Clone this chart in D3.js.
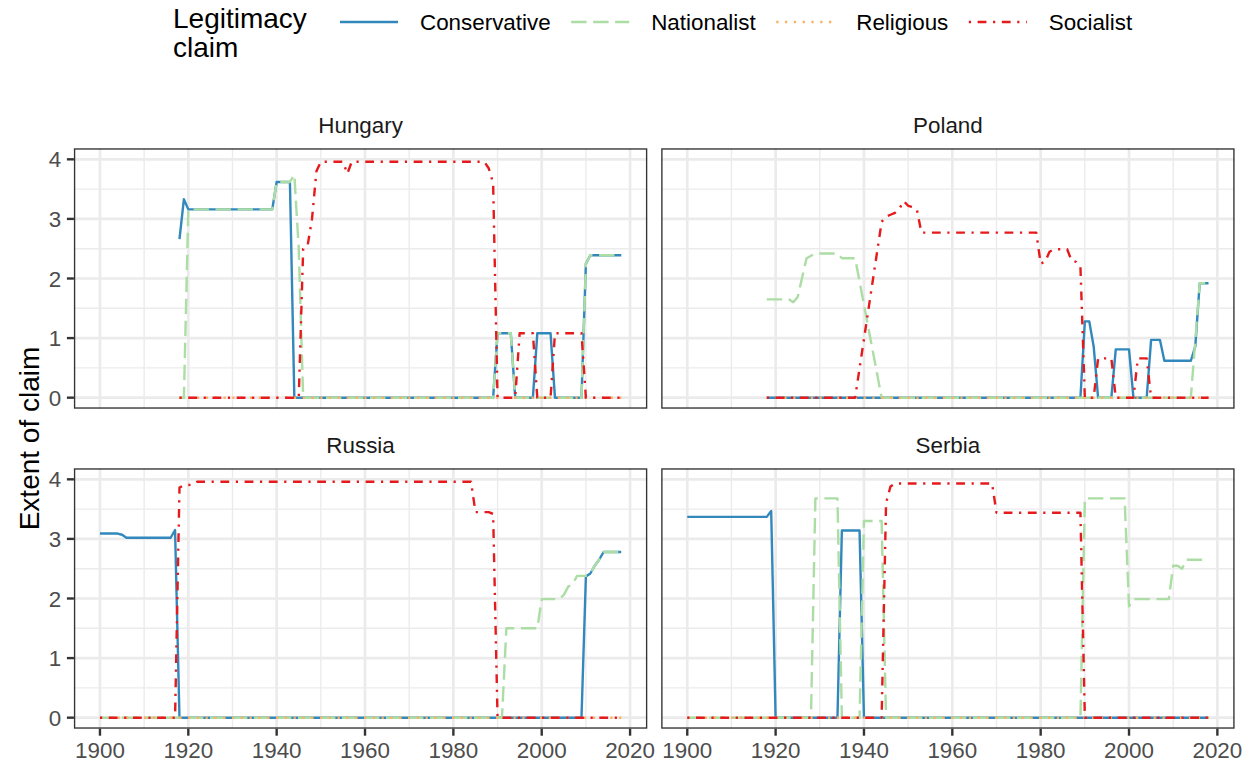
<!DOCTYPE html>
<html><head><meta charset="utf-8">
<script src="https://cdn.jsdelivr.net/npm/d3@7"></script>
<style>
body{margin:0;background:#fff;}
svg{display:block;font-family:"Liberation Sans",Arial,Helvetica,sans-serif;}
</style>
</head><body>
<svg id="chart" width="1252" height="767"></svg>
<script>
// ---------------- DATA ----------------
const countries = ["Hungary", "Poland", "Russia", "Serbia"];
const claims = ["Conservative", "Nationalist", "Religious", "Socialist"];
const xTicks = [1900, 1920, 1940, 1960, 1980, 2000, 2020];
const yTicks = [0, 1, 2, 3, 4];
const legendTitle = ["Legitimacy", "claim"];
const yTitle = "Extent of claim";

// [year, value] vertices
const hungaryConservative = [[1918,2.66],[1919,3.33],[1920,3.16],[1939,3.16],[1940,3.62],[1943,3.62],[1944,0],[1989,0],[1990,1.08],[1993,1.08],[1994,0],[1998,0],[1999,1.08],[2002,1.08],[2003,0],[2009,0],[2010,2.25],[2011,2.39],[2018,2.39]];
const hungaryNationalist = [[1918,0],[1919,0],[1920,3.16],[1939,3.16],[1940,3.62],[1943,3.62],[1944,3.74],[1945,2.5],[1946,0],[1989,0],[1990,1.08],[1993,1.08],[1994,0],[2009,0],[2010,2.25],[2011,2.39],[2018,2.39]];
const hungaryReligious = [[1918,0],[2018,0]];
const hungarySocialist = [[1918,0],[1945,0],[1946,2.5],[1947,2.55],[1948,3.0],[1949,3.8],[1950,3.96],[1955,3.96],[1956,3.76],[1957,3.96],[1987,3.96],[1988,3.85],[1989,3.6],[1990,0],[1994,0],[1995,1.08],[1998,1.08],[1999,0],[2002,0],[2003,1.08],[2009,1.08],[2010,0],[2018,0]];

const polandConservative = [[1918,0],[1989,0],[1990,1.28],[1991,1.28],[1992,0.86],[1993,0],[1996,0],[1997,0.81],[2000,0.81],[2001,0],[2004,0],[2005,0.97],[2007,0.97],[2008,0.62],[2014,0.62],[2015,0.86],[2016,1.92],[2018,1.92]];
const polandNationalist = [[1918,1.65],[1923,1.65],[1924,1.6],[1925,1.69],[1927,2.34],[1929,2.42],[1934,2.42],[1935,2.34],[1938,2.34],[1944,0],[2014,0],[2015,0.96],[2016,1.92],[2018,1.92]];
const polandReligious = [[1918,0],[2018,0]];
const polandSocialist = [[1918,0],[1938,0],[1944,2.95],[1945,3.04],[1946,3.07],[1947,3.1],[1948,3.17],[1949,3.3],[1950,3.22],[1951,3.2],[1952,3.15],[1953,2.77],[1979,2.77],[1980,2.25],[1981,2.28],[1982,2.45],[1983,2.49],[1986,2.49],[1987,2.3],[1988,2.28],[1989,2.2],[1990,0],[1992,0],[1993,0.66],[1996,0.66],[1997,0],[2001,0],[2002,0.66],[2004,0.66],[2005,0],[2018,0]];

const russiaConservative = [[1900,3.09],[1904,3.09],[1905,3.07],[1906,3.02],[1916,3.02],[1917,3.15],[1918,0],[2009,0],[2010,2.37],[2011,2.42],[2012,2.55],[2013,2.65],[2014,2.78],[2018,2.78]];
const russiaNationalist = [[1900,0],[1991,0],[1992,1.5],[1999,1.5],[2000,1.99],[2004,1.99],[2005,2.06],[2006,2.2],[2007,2.24],[2008,2.38],[2010,2.38],[2011,2.42],[2012,2.55],[2013,2.65],[2014,2.78],[2018,2.78]];
const russiaReligious = [[1900,0],[2018,0]];
const russiaSocialist = [[1900,0],[1917,0],[1918,3.86],[1919,3.9],[1921,3.91],[1922,3.96],[1984,3.96],[1985,3.45],[1988,3.45],[1989,3.42],[1990,0],[2018,0]];

const serbiaConservative = [[1900,3.37],[1918,3.37],[1919,3.47],[1920,0],[1934,0],[1935,3.14],[1939,3.14],[1940,0],[2018,0]];
const serbiaNationalist = [[1900,0],[1928,0],[1929,3.68],[1934,3.68],[1935,0],[1939,0],[1940,3.3],[1944,3.3],[1945,0],[1989,0],[1990,3.68],[1999,3.68],[2000,1.87],[2001,1.99],[2009,1.99],[2010,2.55],[2011,2.55],[2012,2.5],[2013,2.65],[2018,2.65]];
const serbiaReligious = [[1900,0],[2018,0]];
const serbiaSocialist = [[1900,0],[1944,0],[1945,3.6],[1946,3.88],[1947,3.93],[1969,3.93],[1970,3.44],[1989,3.44],[1990,0],[2018,0]];

const seriesTable = {
  Hungary: [hungaryConservative, hungaryNationalist, hungaryReligious, hungarySocialist],
  Poland: [polandConservative, polandNationalist, polandReligious, polandSocialist],
  Russia: [russiaConservative, russiaNationalist, russiaReligious, russiaSocialist],
  Serbia: [serbiaConservative, serbiaNationalist, serbiaReligious, serbiaSocialist]
};

// ---------------- STYLE ----------------
const colors = {Conservative:"#3288BD", Nationalist:"#ABDDA4", Religious:"#FDAE61", Socialist:"#E41A1C"};
const dashes = {Conservative:null, Nationalist:"15.4,6.6", Religious:"2.2,6.6", Socialist:"2.2,6.6,8.8,6.6"};
const lineW = 2.4;

const svg = d3.select("#chart");
const colsX = [[73.9, 647.3], [661.2, 1234.6]];
const rowsY = [[148.3, 408.7], [468.3, 728.7]];
const xDomain = [1894.1, 2023.9];
const yDomain = [-0.185, 4.185];
const fontSmall = 22.4, fontBig = 28;

countries.forEach((country, i) => {
  const c = i % 2, r = Math.floor(i / 2);
  const [x0, x1] = colsX[c], [y0, y1] = rowsY[r];
  const x = d3.scaleLinear().domain(xDomain).range([x0, x1]);
  const y = d3.scaleLinear().domain(yDomain).range([y1, y0]);
  const g = svg.append("g");

  g.append("rect").attr("x", x0).attr("y", y0).attr("width", x1 - x0).attr("height", y1 - y0).attr("fill", "#fff");

  // minor grid
  const xMinor = d3.range(1910, 2021, 20);
  const yMinor = [0.5, 1.5, 2.5, 3.5];
  g.selectAll(".xm").data(xMinor).enter().append("line")
    .attr("x1", d => x(d)).attr("x2", d => x(d)).attr("y1", y0).attr("y2", y1)
    .attr("stroke", "#EBEBEB").attr("stroke-width", 1.35);
  g.selectAll(".ym").data(yMinor).enter().append("line")
    .attr("y1", d => y(d)).attr("y2", d => y(d)).attr("x1", x0).attr("x2", x1)
    .attr("stroke", "#EBEBEB").attr("stroke-width", 1.35);
  // major grid
  g.selectAll(".xM").data(xTicks).enter().append("line")
    .attr("x1", d => x(d)).attr("x2", d => x(d)).attr("y1", y0).attr("y2", y1)
    .attr("stroke", "#EBEBEB").attr("stroke-width", 2.7);
  g.selectAll(".yM").data(yTicks).enter().append("line")
    .attr("y1", d => y(d)).attr("y2", d => y(d)).attr("x1", x0).attr("x2", x1)
    .attr("stroke", "#EBEBEB").attr("stroke-width", 2.7);

  // series
  const line = d3.line().x(d => x(d[0])).y(d => y(d[1]));
  claims.forEach((claim, k) => {
    g.append("path").datum(seriesTable[country][k])
      .attr("d", line).attr("fill", "none")
      .attr("stroke", colors[claim]).attr("stroke-width", lineW)
      .attr("stroke-dasharray", dashes[claim])
      .attr("stroke-linejoin", "round").attr("stroke-linecap", "butt");
  });

  // border
  g.append("rect").attr("x", x0 + 0.68).attr("y", y0 + 0.68)
    .attr("width", x1 - x0 - 1.36).attr("height", y1 - y0 - 1.36)
    .attr("fill", "none").attr("stroke", "#333333").attr("stroke-width", 1.36);

  // strip
  g.append("text").attr("x", (x0 + x1) / 2).attr("y", y0 - 15)
    .attr("text-anchor", "middle").attr("font-size", fontSmall).attr("fill", "#1A1A1A")
    .text(country);

  // y axis on left column
  if (c === 0) {
    g.selectAll(".yt").data(yTicks).enter().append("line")
      .attr("x1", x0 - 7).attr("x2", x0).attr("y1", d => y(d)).attr("y2", d => y(d))
      .attr("stroke", "#333333").attr("stroke-width", 2.4);
    g.selectAll(".yl").data(yTicks).enter().append("text")
      .attr("x", x0 - 12.6).attr("y", d => y(d) + 8)
      .attr("text-anchor", "end").attr("font-size", fontSmall).attr("fill", "#4D4D4D")
      .text(d => d);
  }
  // x axis on bottom row
  if (r === 1) {
    g.selectAll(".xt").data(xTicks).enter().append("line")
      .attr("x1", d => x(d)).attr("x2", d => x(d)).attr("y1", y1).attr("y2", y1 + 7)
      .attr("stroke", "#333333").attr("stroke-width", 2.4);
    g.selectAll(".xl").data(xTicks).enter().append("text")
      .attr("x", d => x(d)).attr("y", y1 + 29.5)
      .attr("text-anchor", "middle").attr("font-size", fontSmall).attr("fill", "#4D4D4D")
      .text(d => d);
  }
});

// y-axis title
svg.append("text").attr("transform", "translate(39,438.5) rotate(-90)")
  .attr("text-anchor", "middle").attr("font-size", fontBig).attr("fill", "#000")
  .text(yTitle);

// legend
const lg = svg.append("g");
lg.selectAll(".lt").data(legendTitle).enter().append("text")
  .attr("x", 173).attr("y", (d, i) => 28.3 + i * 28.4)
  .attr("font-size", fontBig).attr("fill", "#000").text(d => d);

let cx = 340;
const keyW = 58, keyY = 22;
claims.forEach(claim => {
  lg.append("path").attr("d", d3.line()([[cx, keyY], [cx + keyW, keyY]]))
    .attr("stroke", colors[claim]).attr("stroke-width", lineW)
    .attr("stroke-dasharray", dashes[claim]).attr("fill", "none");
  const t = lg.append("text").attr("x", cx + keyW + 22).attr("y", keyY + 8)
    .attr("font-size", fontSmall).attr("fill", "#000").text(claim);
  const w = t.node().getComputedTextLength();
  cx = cx + keyW + 22 + w + 20.5;
});
</script>
</body></html>
